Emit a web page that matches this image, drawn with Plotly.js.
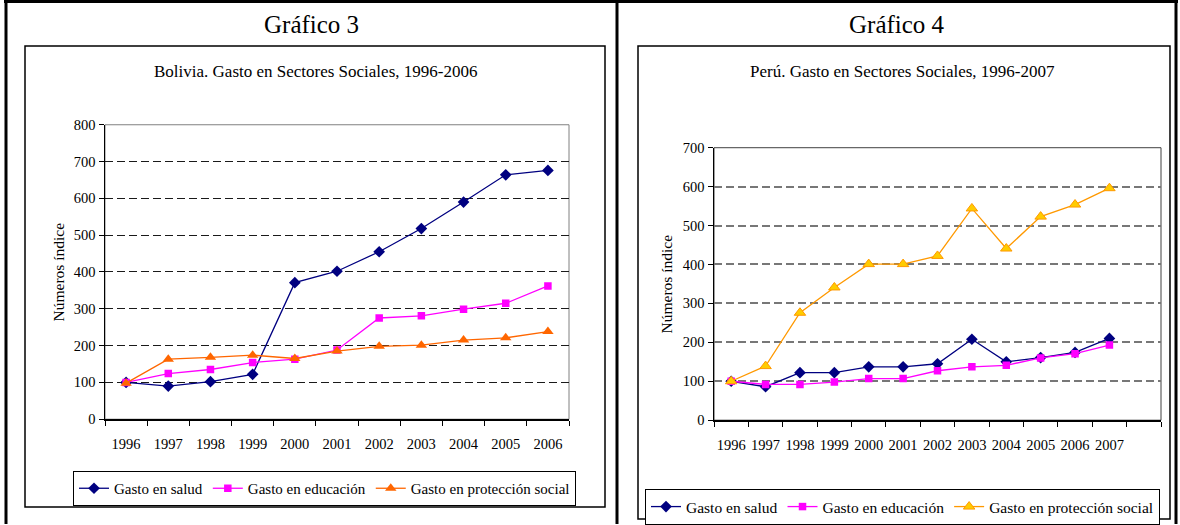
<!DOCTYPE html>
<html><head><meta charset="utf-8">
<script src="https://cdn.plot.ly/plotly-3.0.1.min.js"></script>
<style>html,body{margin:0;padding:0;background:#fff;}#chart{width:1180px;height:525px;}</style>
</head><body><div id="chart"></div>
<script>
// ---- Data: Bolivia (Gráfico 3) ----
const yearsBo = [1996,1997,1998,1999,2000,2001,2002,2003,2004,2005,2006];
const saludBo = [100,90,102,122,371,402,455,518,590,664,676];
const educBo  = [100,124,135,154,163,188,275,281,299,315,362];
const protBo  = [98,163,168,174,165,185,198,201,215,221,238];
// ---- Data: Perú (Gráfico 4) ----
const yearsPe = [1996,1997,1998,1999,2000,2001,2002,2003,2004,2005,2006,2007];
const saludPe = [100,86,122,122,137,137,145,208,150,161,174,210];
const educPe  = [100,92,92,98,107,107,127,137,141,160,171,193];
const protPe  = [100,139,276,341,401,401,422,544,441,523,554,596];
// ---- Text ----
const seriesNames = ['Gasto en salud','Gasto en educación','Gasto en protección social'];
const panelTitles = ['Gráfico 3','Gráfico 4'];
const chartTitles = ['Bolivia. Gasto en Sectores Sociales, 1996-2006','Perú. Gasto en Sectores Sociales, 1996-2007'];
const yTitle = 'Números índice';

const W = 1180, H = 525;
const px = x => x / W;
const py = y => 1 - y / H;
const FONT = "'Liberation Serif', 'Times New Roman', serif";

const navy = '#000080', magenta = '#FF00FF', orangeBo = '#FF6600', orangePe = '#FF9900', yellowPe = '#FFCC00';

function tr(x, y, name, color, symbol, size, xa, ya, legend, mfill, mline) {
  return {
    x: x, y: y, name: name, type: 'scatter', mode: 'lines+markers',
    xaxis: xa, yaxis: ya, legend: legend,
    line: {color: color, width: 1.3},
    marker: {symbol: symbol, size: size, color: mfill || color,
             line: {color: mline || color, width: mline ? 1 : 0}}
  };
}

const data = [
  tr(yearsBo, saludBo, seriesNames[0], navy, 'diamond', 9, 'x', 'y', 'legend'),
  tr(yearsBo, educBo, seriesNames[1], magenta, 'square', 7.5, 'x', 'y', 'legend'),
  tr(yearsBo, protBo, seriesNames[2], orangeBo, 'triangle-up', 10, 'x', 'y', 'legend'),
  tr(yearsPe, saludPe, seriesNames[0], navy, 'diamond', 9, 'x2', 'y2', 'legend2'),
  tr(yearsPe, educPe, seriesNames[1], magenta, 'square', 7.5, 'x2', 'y2', 'legend2'),
  tr(yearsPe, protPe, seriesNames[2], orangePe, 'triangle-up', 10, 'x2', 'y2', 'legend2', yellowPe, orangePe)
];

const tickFont = {family: FONT, size: 14.5, color: '#000'};

function xAxis(domain, years, extra) {
  return {
    domain: domain, range: [years[0] - 0.5, years[years.length - 1] + 0.5 + extra],
    tickvals: years, ticktext: years.map(String),
    ticks: 'outside', ticklen: 11, tickcolor: 'rgba(0,0,0,0)',
    minor: {tick0: years[0] - 0.5, dtick: 1, ticks: 'outside', ticklen: 5, tickcolor: '#000', tickwidth: 1, showgrid: false},
    showline: true, linecolor: '#000', linewidth: 1.5,
    showgrid: false, zeroline: false, tickfont: tickFont, fixedrange: true
  };
}
function yAxis(domain, max, gridcolor, gridwidth, anchor) {
  return {
    domain: domain, range: [0, max], dtick: 100, anchor: anchor,
    ticks: 'outside', ticklen: 5, tickcolor: '#000',
    showline: true, linecolor: '#000', linewidth: 1.5,
    showgrid: true, gridcolor: gridcolor, griddash: '8px,4px', gridwidth: gridwidth,
    zeroline: false, tickfont: tickFont, fixedrange: true
  };
}

const xa1 = xAxis([px(105), px(569)], yearsBo, 0); xa1.anchor = 'y';
const xa2 = xAxis([px(714), px(1161)], yearsPe, 1); xa2.anchor = 'y2';

const line = (x0, y0, x1, y1, w, c) => ({type: 'line', xref: 'paper', yref: 'paper',
  x0: px(x0), y0: py(y0), x1: px(x1), y1: py(y1), line: {color: c || '#000', width: w}});
const rect = (x0, y0, x1, y1, w, c) => ({type: 'rect', xref: 'paper', yref: 'paper',
  x0: px(x0), y0: py(y0), x1: px(x1), y1: py(y1), line: {color: c || '#000', width: w}, layer: 'below'});
const ann = (text, x, y, size, angle) => ({text: text, x: px(x), y: py(y), xref: 'paper', yref: 'paper',
  xanchor: 'center', yanchor: 'middle', showarrow: false, textangle: angle || 0,
  font: {family: FONT, size: size, color: '#000'}});

const layout = {
  width: W, height: H, margin: {l: 0, r: 0, t: 0, b: 0},
  paper_bgcolor: '#fff', plot_bgcolor: 'rgba(0,0,0,0)',
  font: {family: FONT, color: '#000', size: 14},
  showlegend: true,
  xaxis: xa1, yaxis: yAxis([py(420), py(125)], 800, '#1a1a1a', 1, 'x'),
  xaxis2: xa2, yaxis2: yAxis([py(421), py(148)], 700, '#777777', 2, 'x2'),
  legend: {orientation: 'h', x: px(73), y: py(471), xanchor: 'left', yanchor: 'top',
    bordercolor: '#000', borderwidth: 1, bgcolor: '#fff', font: {family: FONT, size: 15, color: '#000'},
    itemwidth: 30, traceorder: 'normal'},
  legend2: {orientation: 'h', x: px(645), y: py(490), xanchor: 'left', yanchor: 'top',
    bordercolor: '#000', borderwidth: 1, bgcolor: '#fff', font: {family: FONT, size: 15.5, color: '#000'},
    itemwidth: 30, traceorder: 'normal'},
  shapes: [
    line(4, 1.5, 1178, 1.5, 3),
    line(6, 0, 6, 525, 3),
    line(617, 0, 617, 525, 3),
    line(1176, 0, 1176, 525, 3),
    rect(25, 46, 605, 508, 1.5),
    rect(638, 46, 1170, 520, 1.5),
    rect(105, 125, 569, 420, 1, '#808080'),
    rect(714, 148, 1161, 421, 1, '#404040')
  ],
  annotations: [
    ann(panelTitles[0], 311, 25, 25),
    ann(panelTitles[1], 897, 25, 25),
    ann(chartTitles[0], 315, 72, 17),
    ann(chartTitles[1], 902, 72, 17),
    ann(yTitle, 58, 273, 15.5, -90),
    ann(yTitle, 666, 285, 15.5, -90)
  ]
};

Plotly.newPlot('chart', data, layout, {staticPlot: true, displayModeBar: false});
</script>
</body></html>
